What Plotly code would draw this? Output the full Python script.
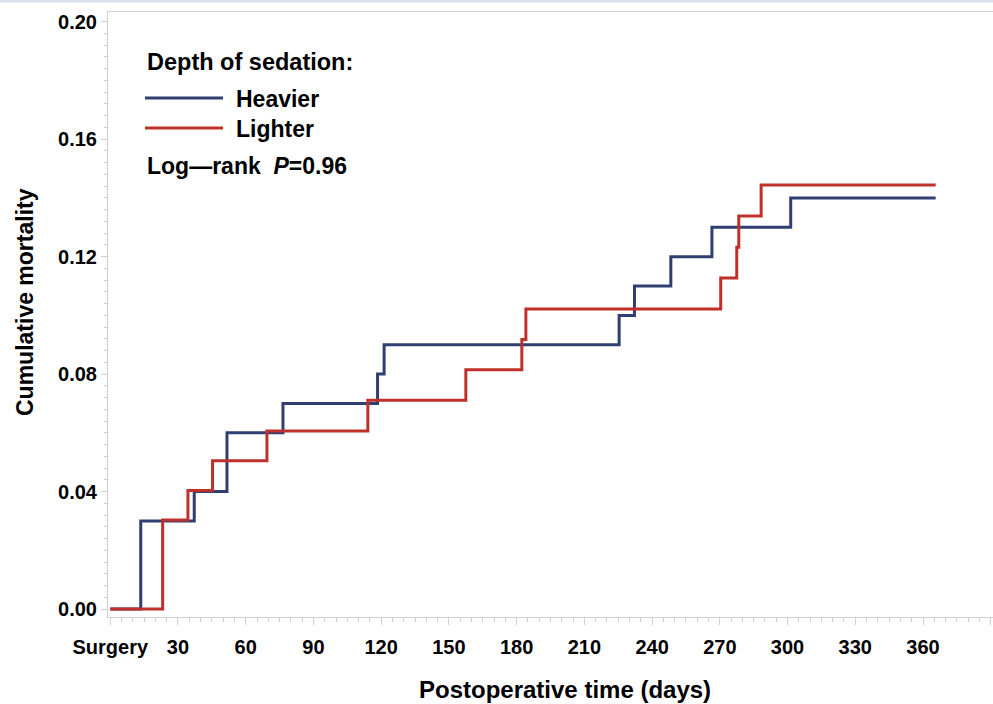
import plotly.graph_objects as go

# ---- data ----
heavier_days = [0, 13.5, 37.2, 51.7, 76.5, 118.4, 121.3, 225.4, 232.2, 248.3, 266.5, 301.4, 365.6]
heavier_cum = [0.0, 0.030, 0.040, 0.060, 0.070, 0.080, 0.090, 0.100, 0.110, 0.120, 0.130, 0.140, 0.140]

lighter_days = [0, 23.2, 34.4, 45.3, 69.4, 114.1, 157.5, 182.3, 184.1, 270.4, 277.5, 278.4, 288.3, 365.6]
lighter_cum = [0.0, 0.0303, 0.0404, 0.0505, 0.0606, 0.0711, 0.0815, 0.0918, 0.1022, 0.1127, 0.1232, 0.1338, 0.1444, 0.1444]

x_tickvals = [0, 30, 60, 90, 120, 150, 180, 210, 240, 270, 300, 330, 360, 390]
x_ticktext = ["Surgery", "30", "60", "90", "120", "150", "180", "210", "240", "270", "300", "330", "360", ""]
y_tickvals = [0.0, 0.04, 0.08, 0.12, 0.16, 0.20]

BLUE = "#2f3f73"
RED = "#c0302b"
FONT = "Liberation Sans, Arial, sans-serif"
GRAY = "#cfcfcf"

fig = go.Figure()
fig.add_trace(go.Scatter(x=heavier_days, y=heavier_cum, mode="lines", line_shape="hv",
                         line=dict(color=BLUE, width=3), name="Heavier", showlegend=False))
fig.add_trace(go.Scatter(x=lighter_days, y=lighter_cum, mode="lines", line_shape="hv",
                         line=dict(color=RED, width=3), name="Lighter", showlegend=False))

fig.update_layout(
    width=993, height=704,
    margin=dict(l=108, r=0, t=12, b=87, autoexpand=False),
    paper_bgcolor="white", plot_bgcolor="white",
    font=dict(family=FONT, color="black"),
    showlegend=False,
)

fig.update_xaxes(
    range=[-1, 391], showgrid=False, zeroline=False, automargin=False,
    showline=True, linecolor=GRAY, linewidth=1, mirror=True,
    tickmode="array", tickvals=x_tickvals, ticktext=x_ticktext,
    ticks="outside", ticklen=7, tickcolor=GRAY, tickwidth=1,
    minor=dict(dtick=5, tick0=0, ticks="outside", ticklen=4, tickcolor=GRAY, showgrid=False),
    tickfont=dict(family=FONT, size=20, color="black", weight="bold"),
    ticklabelstandoff=5,
)
fig.update_yaxes(
    range=[-0.0027, 0.2033], showgrid=False, zeroline=False, automargin=False,
    showline=True, linecolor=GRAY, linewidth=1, mirror=False,
    tickmode="array", tickvals=y_tickvals, tickformat=".2f",
    ticks="outside", ticklen=6, tickcolor=GRAY, tickwidth=1,
    minor=dict(dtick=0.004, tick0=0, ticks="outside", ticklen=3, tickcolor=GRAY, showgrid=False),
    tickfont=dict(family=FONT, size=20, color="black", weight="bold"),
)

def px_x(px):
    return (px - 108) / 885.0

def px_y(py):
    return (617 - py) / 605.0

# axis titles placed as annotations
fig.add_annotation(xref="paper", yref="paper", x=px_x(565), y=px_y(689), xanchor="center", yanchor="middle",
                   text="<b>Postoperative time (days)</b>", showarrow=False, font=dict(family=FONT, size=24))
fig.add_annotation(xref="paper", yref="paper", x=px_x(25), y=px_y(302), xanchor="center", yanchor="middle",
                   textangle=-90, text="<b>Cumulative mortality</b>", showarrow=False,
                   font=dict(family=FONT, size=23))

# top light band (screenshot edge)
fig.add_shape(type="rect", xref="paper", yref="paper", x0=-0.2, x1=1.1, y0=px_y(2.5), y1=px_y(-2),
              fillcolor="#d8e0f0", line=dict(width=0), layer="below")

# legend block (drawn manually)
fig.add_annotation(xref="paper", yref="paper", x=px_x(145), y=px_y(62), xanchor="left", yanchor="middle",
                   text="<b>Depth of sedation:</b>", showarrow=False, font=dict(family=FONT, size=23.5))
fig.add_shape(type="line", xref="paper", yref="paper", x0=px_x(145), x1=px_x(223), y0=px_y(98), y1=px_y(98),
              line=dict(color=BLUE, width=3))
fig.add_annotation(xref="paper", yref="paper", x=px_x(234), y=px_y(99), xanchor="left", yanchor="middle",
                   text="<b>Heavier</b>", showarrow=False, font=dict(family=FONT, size=23))
fig.add_shape(type="line", xref="paper", yref="paper", x0=px_x(145), x1=px_x(223), y0=px_y(128), y1=px_y(128),
              line=dict(color=RED, width=3))
fig.add_annotation(xref="paper", yref="paper", x=px_x(234), y=px_y(129), xanchor="left", yanchor="middle",
                   text="<b>Lighter</b>", showarrow=False, font=dict(family=FONT, size=23))
fig.add_annotation(xref="paper", yref="paper", x=px_x(145), y=px_y(166), xanchor="left", yanchor="middle",
                   text="<b>Log\u2014rank  <i>P</i>=0.96</b>", showarrow=False, font=dict(family=FONT, size=23))

fig.write_html("out.html", config={"displayModeBar": False},
               post_script="document.body.style.margin='0';")
